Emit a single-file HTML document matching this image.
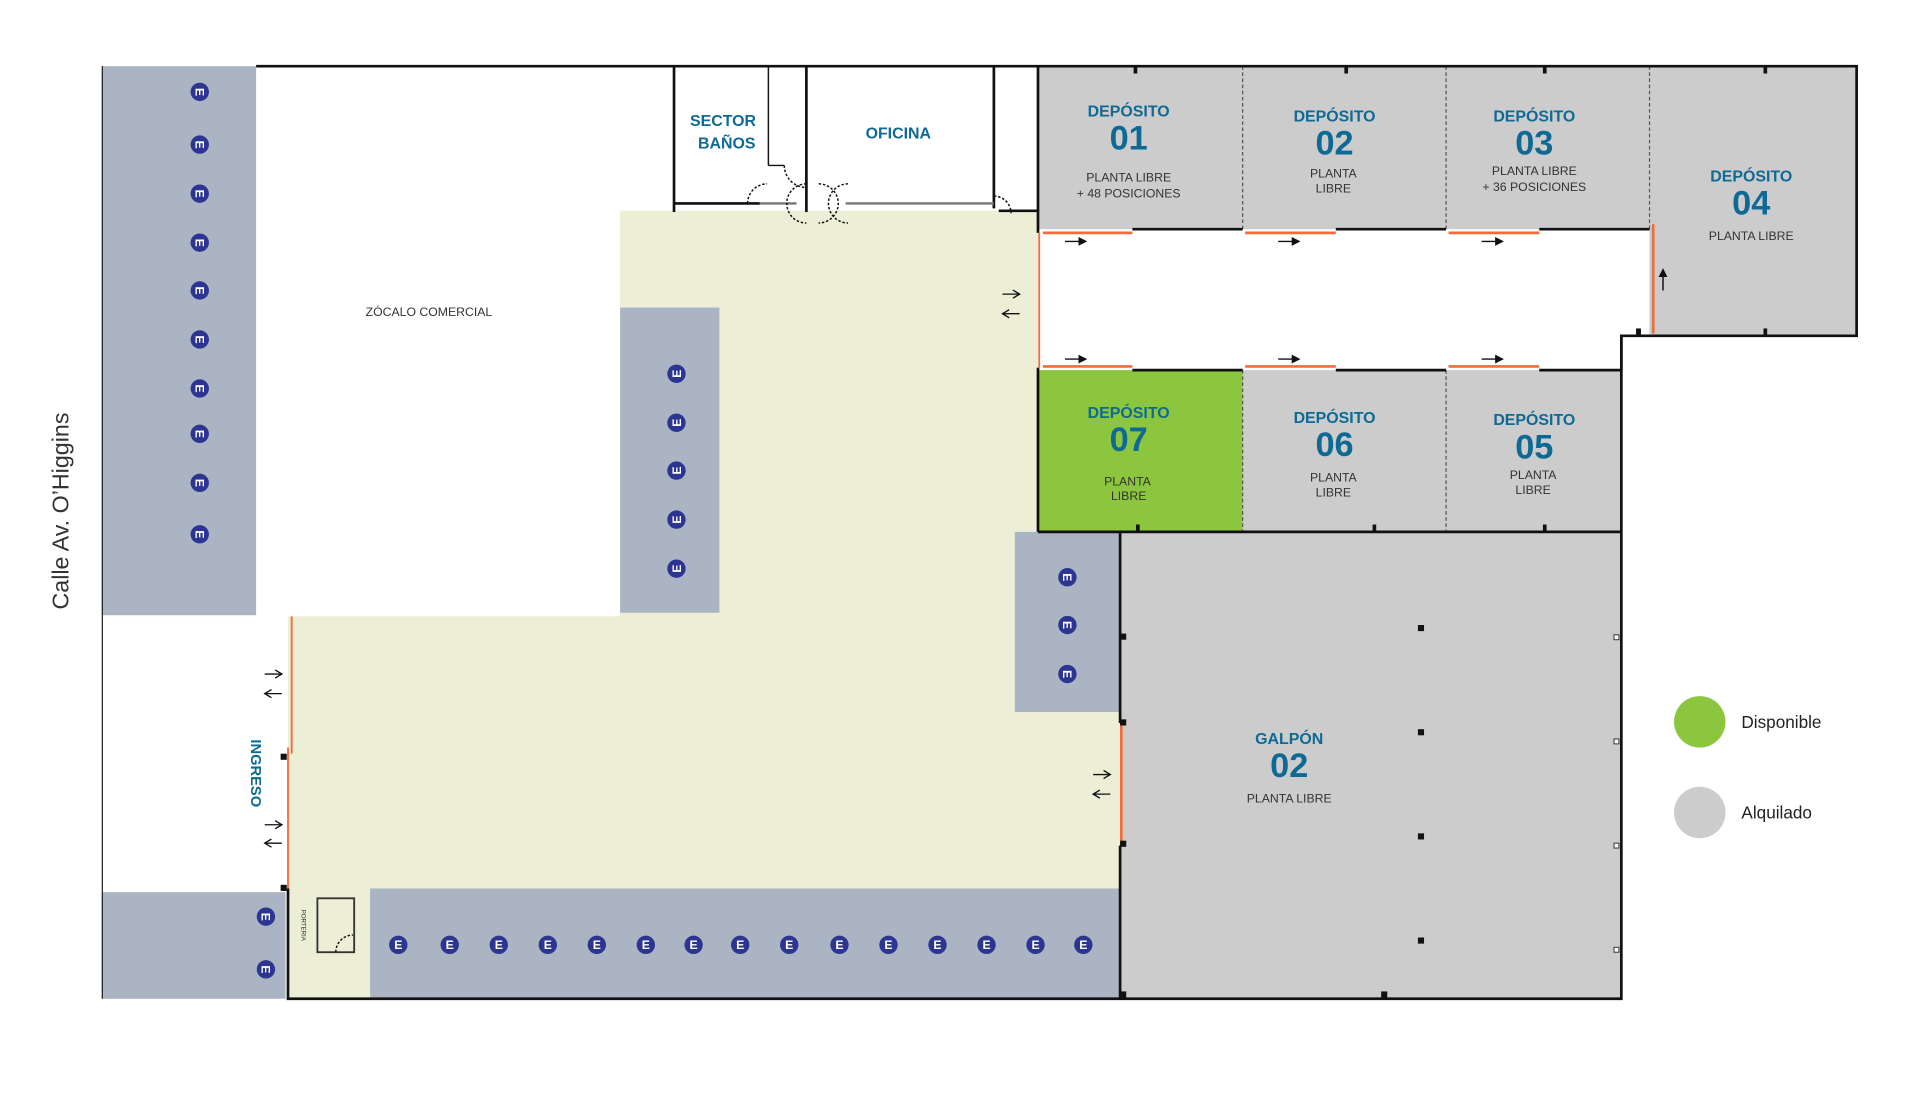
<!DOCTYPE html>
<html><head><meta charset="utf-8"><style>
html,body{margin:0;padding:0;background:#fff;width:1922px;height:1102px;overflow:hidden}
svg{display:block}
.h{font-family:"Liberation Sans",sans-serif;font-weight:bold;fill:#0e6a94;text-anchor:middle}
.s{font-family:"Liberation Sans",sans-serif;fill:#333;text-anchor:middle;font-size:10px}
.ic{fill:#2c3592}
.it{font-family:"Liberation Sans",sans-serif;font-weight:bold;fill:#fff;font-size:10px;text-anchor:middle}
</style></head><body>
<svg width="1922" height="1102" viewBox="0 0 1922 1102" xmlns="http://www.w3.org/2000/svg">
<g transform="scale(1.2255)">
<polygon points="506,172 847,172 847,434 828,434 828,581 914,581 914,815 235,815 235,503 506,503" fill="#eceed6"/>
<rect x="83" y="54" width="126" height="448" fill="#aab4c3"/>
<rect x="506" y="251" width="81" height="249" fill="#aab4c3"/>
<rect x="828" y="434" width="86" height="147" fill="#aab4c3"/>
<rect x="302" y="725" width="612" height="90" fill="#aab4c3"/>
<rect x="83" y="728" width="150" height="87" fill="#aab4c3"/>
<line x1="83.5" y1="54" x2="83.5" y2="815" stroke="#222" stroke-width="1"/>
<rect x="847" y="54" width="668" height="133" fill="#cccccc"/>
<rect x="1346" y="54" width="169" height="220" fill="#cccccc"/>
<rect x="847" y="302" width="167" height="132" fill="#8cc63f"/>
<rect x="1014" y="302" width="309" height="132" fill="#cccccc"/>
<rect x="914" y="434" width="409" height="381" fill="#cccccc"/>
<g stroke="#555" stroke-width="1" stroke-dasharray="3,2">
<line x1="1014" y1="54" x2="1014" y2="187"/><line x1="1180" y1="54" x2="1180" y2="187"/><line x1="1346" y1="54" x2="1346" y2="187"/>
<line x1="1014" y1="302" x2="1014" y2="434"/><line x1="1180" y1="302" x2="1180" y2="434"/>
</g>
<g stroke="#111" stroke-width="2.2" fill="none">
<polyline points="209,54 1515,54 1515,274 1323,274 1323,815 235,815 235,725"/>
<line x1="847" y1="54" x2="847" y2="190"/>
<line x1="847" y1="300" x2="847" y2="434"/>
<line x1="847" y1="434" x2="1323" y2="434"/>
<line x1="914" y1="434" x2="914" y2="590"/><line x1="914" y1="690" x2="914" y2="815"/>
<line x1="924" y1="187" x2="1014" y2="187"/><line x1="1090" y1="187" x2="1180" y2="187"/><line x1="1256" y1="187" x2="1346" y2="187"/>
<line x1="924" y1="302" x2="1014" y2="302"/><line x1="1090" y1="302" x2="1180" y2="302"/><line x1="1256" y1="302" x2="1323" y2="302"/>
<line x1="1323" y1="274" x2="1323" y2="302"/>
<line x1="550" y1="54" x2="550" y2="173"/><line x1="658" y1="54" x2="658" y2="173"/><line x1="811" y1="54" x2="811" y2="170"/>
<line x1="550" y1="166" x2="620" y2="166"/>
<line x1="815" y1="172" x2="847" y2="172"/>
</g>
<g stroke="#111" stroke-width="1.2" fill="none">
<line x1="627" y1="54" x2="627" y2="135"/><line x1="627" y1="135" x2="640" y2="135"/>
<line x1="690" y1="166" x2="811" y2="166" stroke="#777" stroke-width="2"/>
<line x1="620" y1="166" x2="650" y2="166" stroke="#777" stroke-width="2"/>
<path d="M640,135 A18,18 0 0 0 658,153" stroke-dasharray="2,1.5"/>
<path d="M610,166 A16,16 0 0 1 626,150" stroke-dasharray="2,1.5"/>
<path d="M658,150 A16,16 0 0 0 658,182" stroke-dasharray="2,1.5"/>
<path d="M668,150 A16,16 0 0 1 668,182" stroke-dasharray="2,1.5"/>
<path d="M692,150 A16,16 0 0 0 692,182" stroke-dasharray="2,1.5"/>
<path d="M811,160 A14,14 0 0 1 825,174" stroke-dasharray="2,1.5"/>
<rect x="259" y="733" width="30" height="44" stroke="#333" stroke-width="1.5"/>
<path d="M274,777 A14,14 0 0 1 288,763" stroke-dasharray="2,1.5"/>
</g>
<g stroke="#f26b3a" stroke-width="2.2">
<line x1="851" y1="190" x2="924" y2="190"/><line x1="1016" y1="190" x2="1090" y2="190"/><line x1="1182" y1="190" x2="1256" y2="190"/>
<line x1="851" y1="299" x2="924" y2="299"/><line x1="1016" y1="299" x2="1090" y2="299"/><line x1="1182" y1="299" x2="1256" y2="299"/>
<line x1="848" y1="190" x2="848" y2="300" stroke-width="1.5"/>
<line x1="1349" y1="183" x2="1349" y2="272"/>
<line x1="238" y1="503" x2="238" y2="615" stroke-width="1.5"/>
<line x1="235" y1="610" x2="235" y2="725" stroke-width="1.5"/>
<line x1="915" y1="590" x2="915" y2="690"/>
</g>
<defs><marker id="a" markerWidth="6" markerHeight="6" refX="5" refY="3" orient="auto"><path d="M0,0 L6,3 L0,6z" fill="#111"/></marker>
<marker id="o" markerWidth="8" markerHeight="8" refX="6" refY="4" orient="auto"><path d="M1,1 L6,4 L1,7" fill="none" stroke="#111" stroke-width="1"/></marker></defs>
<g stroke="#111" stroke-width="1.2" marker-end="url(#a)">
<line x1="869" y1="197" x2="886" y2="197"/><line x1="1043" y1="197" x2="1060" y2="197"/><line x1="1209" y1="197" x2="1226" y2="197"/>
<line x1="869" y1="293" x2="886" y2="293"/><line x1="1043" y1="293" x2="1060" y2="293"/><line x1="1209" y1="293" x2="1226" y2="293"/>
<line x1="1357" y1="237" x2="1357" y2="220"/>
</g>
<g stroke="#111" stroke-width="1.1" marker-end="url(#o)">
<line x1="818" y1="240" x2="832" y2="240"/><line x1="832" y1="256" x2="818" y2="256"/>
<line x1="216" y1="550" x2="230" y2="550"/><line x1="230" y1="566" x2="216" y2="566"/>
<line x1="216" y1="673" x2="230" y2="673"/><line x1="230" y1="688" x2="216" y2="688"/>
<line x1="892" y1="632" x2="906" y2="632"/><line x1="906" y1="648" x2="892" y2="648"/>
</g>
<g fill="#111">
<rect x="1157" y="510" width="5" height="5"/><rect x="1157" y="595" width="5" height="5"/><rect x="1157" y="680" width="5" height="5"/><rect x="1157" y="765" width="5" height="5"/>
<rect x="914" y="517" width="5" height="5"/><rect x="914" y="587" width="5" height="5"/><rect x="914" y="686" width="5" height="5"/><rect x="914" y="809" width="5" height="5"/><rect x="1127" y="809" width="5" height="5"/>
<rect x="229" y="615" width="5" height="5"/><rect x="229" y="722" width="5" height="5"/>
<rect x="925" y="54" width="3" height="6"/><rect x="1097" y="54" width="3" height="6"/><rect x="1259" y="54" width="3" height="6"/><rect x="1439" y="54" width="3" height="6"/>
<rect x="927" y="428" width="3" height="6"/><rect x="1120" y="428" width="3" height="6"/><rect x="1259" y="428" width="3" height="6"/><rect x="1439" y="268" width="3" height="6"/><rect x="1335" y="268" width="4" height="6"/>
</g>
<g fill="#fff" stroke="#333" stroke-width="0.8">
<rect x="1317" y="518" width="4" height="4"/><rect x="1317" y="603" width="4" height="4"/><rect x="1317" y="688" width="4" height="4"/><rect x="1317" y="773" width="4" height="4"/>
</g>
<g>
<g transform="translate(163,75) rotate(90)"><circle r="7.5" class="ic"/><text y="3.5" class="it">E</text></g>
<g transform="translate(163,118) rotate(90)"><circle r="7.5" class="ic"/><text y="3.5" class="it">E</text></g>
<g transform="translate(163,158) rotate(90)"><circle r="7.5" class="ic"/><text y="3.5" class="it">E</text></g>
<g transform="translate(163,198) rotate(90)"><circle r="7.5" class="ic"/><text y="3.5" class="it">E</text></g>
<g transform="translate(163,237) rotate(90)"><circle r="7.5" class="ic"/><text y="3.5" class="it">E</text></g>
<g transform="translate(163,277) rotate(90)"><circle r="7.5" class="ic"/><text y="3.5" class="it">E</text></g>
<g transform="translate(163,317) rotate(90)"><circle r="7.5" class="ic"/><text y="3.5" class="it">E</text></g>
<g transform="translate(163,354) rotate(90)"><circle r="7.5" class="ic"/><text y="3.5" class="it">E</text></g>
<g transform="translate(163,394) rotate(90)"><circle r="7.5" class="ic"/><text y="3.5" class="it">E</text></g>
<g transform="translate(163,436) rotate(90)"><circle r="7.5" class="ic"/><text y="3.5" class="it">E</text></g>
<g transform="translate(552,305) rotate(-90)"><circle r="7.5" class="ic"/><text y="3.5" class="it">E</text></g>
<g transform="translate(552,345) rotate(-90)"><circle r="7.5" class="ic"/><text y="3.5" class="it">E</text></g>
<g transform="translate(552,384) rotate(-90)"><circle r="7.5" class="ic"/><text y="3.5" class="it">E</text></g>
<g transform="translate(552,424) rotate(-90)"><circle r="7.5" class="ic"/><text y="3.5" class="it">E</text></g>
<g transform="translate(552,464) rotate(-90)"><circle r="7.5" class="ic"/><text y="3.5" class="it">E</text></g>
<g transform="translate(871,471) rotate(90)"><circle r="7.5" class="ic"/><text y="3.5" class="it">E</text></g>
<g transform="translate(871,510) rotate(90)"><circle r="7.5" class="ic"/><text y="3.5" class="it">E</text></g>
<g transform="translate(871,550) rotate(90)"><circle r="7.5" class="ic"/><text y="3.5" class="it">E</text></g>
<g transform="translate(217,748) rotate(90)"><circle r="7.5" class="ic"/><text y="3.5" class="it">E</text></g>
<g transform="translate(217,791) rotate(90)"><circle r="7.5" class="ic"/><text y="3.5" class="it">E</text></g>
<g transform="translate(325,771)"><circle r="7.5" class="ic"/><text y="3.5" class="it">E</text></g>
<g transform="translate(367,771)"><circle r="7.5" class="ic"/><text y="3.5" class="it">E</text></g>
<g transform="translate(407,771)"><circle r="7.5" class="ic"/><text y="3.5" class="it">E</text></g>
<g transform="translate(447,771)"><circle r="7.5" class="ic"/><text y="3.5" class="it">E</text></g>
<g transform="translate(487,771)"><circle r="7.5" class="ic"/><text y="3.5" class="it">E</text></g>
<g transform="translate(527,771)"><circle r="7.5" class="ic"/><text y="3.5" class="it">E</text></g>
<g transform="translate(566,771)"><circle r="7.5" class="ic"/><text y="3.5" class="it">E</text></g>
<g transform="translate(604,771)"><circle r="7.5" class="ic"/><text y="3.5" class="it">E</text></g>
<g transform="translate(644,771)"><circle r="7.5" class="ic"/><text y="3.5" class="it">E</text></g>
<g transform="translate(685,771)"><circle r="7.5" class="ic"/><text y="3.5" class="it">E</text></g>
<g transform="translate(725,771)"><circle r="7.5" class="ic"/><text y="3.5" class="it">E</text></g>
<g transform="translate(765,771)"><circle r="7.5" class="ic"/><text y="3.5" class="it">E</text></g>
<g transform="translate(805,771)"><circle r="7.5" class="ic"/><text y="3.5" class="it">E</text></g>
<g transform="translate(845,771)"><circle r="7.5" class="ic"/><text y="3.5" class="it">E</text></g>
<g transform="translate(884,771)"><circle r="7.5" class="ic"/><text y="3.5" class="it">E</text></g>
</g>
<text x="590" y="103" class="h" font-size="13">SECTOR</text>
<text x="593" y="121" class="h" font-size="13">BAÑOS</text>
<text x="733" y="113" class="h" font-size="13">OFICINA</text>
<text x="350" y="258" class="s" font-size="7.5">ZÓCALO COMERCIAL</text>
<text x="921" y="95" class="h" font-size="13">DEPÓSITO</text>
<text x="921" y="122" class="h" font-size="28">01</text>
<text x="921" y="148" class="s">PLANTA LIBRE</text><text x="921" y="161" class="s">+ 48 POSICIONES</text>
<text x="1089" y="99" class="h" font-size="13">DEPÓSITO</text>
<text x="1089" y="126" class="h" font-size="28">02</text>
<text x="1088" y="145" class="s">PLANTA</text><text x="1088" y="157" class="s">LIBRE</text>
<text x="1252" y="99" class="h" font-size="13">DEPÓSITO</text>
<text x="1252" y="126" class="h" font-size="28">03</text>
<text x="1252" y="143" class="s">PLANTA LIBRE</text><text x="1252" y="156" class="s">+ 36 POSICIONES</text>
<text x="1429" y="148" class="h" font-size="13">DEPÓSITO</text>
<text x="1429" y="175" class="h" font-size="28">04</text>
<text x="1429" y="196" class="s">PLANTA LIBRE</text>
<text x="921" y="341" class="h" font-size="13">DEPÓSITO</text>
<text x="921" y="368" class="h" font-size="28">07</text>
<text x="920" y="396" class="s">PLANTA</text><text x="921" y="408" class="s">LIBRE</text>
<text x="1089" y="345" class="h" font-size="13">DEPÓSITO</text>
<text x="1089" y="372" class="h" font-size="28">06</text>
<text x="1088" y="393" class="s">PLANTA</text><text x="1088" y="405" class="s">LIBRE</text>
<text x="1252" y="347" class="h" font-size="13">DEPÓSITO</text>
<text x="1252" y="374" class="h" font-size="28">05</text>
<text x="1251" y="391" class="s">PLANTA</text><text x="1251" y="403" class="s">LIBRE</text>
<text x="1052" y="607" class="h" font-size="13">GALPÓN</text>
<text x="1052" y="634" class="h" font-size="28">02</text>
<text x="1052" y="655" class="s">PLANTA LIBRE</text>
<text transform="translate(205,631) rotate(90)" class="h" font-size="12">INGRESO</text>
<text transform="translate(246,755) rotate(90)" class="s" font-size="5" text-anchor="middle" style="font-size:5px">PORTERIA</text>
<text transform="translate(56,417) rotate(-90)" font-family="Liberation Sans,sans-serif" font-size="19" fill="#333" text-anchor="middle">Calle Av. O’Higgins</text>
<circle cx="1387" cy="589" r="21" fill="#8cc63f"/>
<circle cx="1387" cy="663" r="21" fill="#cccccc"/>
<text x="1421" y="594" font-family="Liberation Sans,sans-serif" font-size="14" fill="#222">Disponible</text>
<text x="1421" y="668" font-family="Liberation Sans,sans-serif" font-size="14" fill="#222">Alquilado</text>
</g>
</svg>
</body></html>
